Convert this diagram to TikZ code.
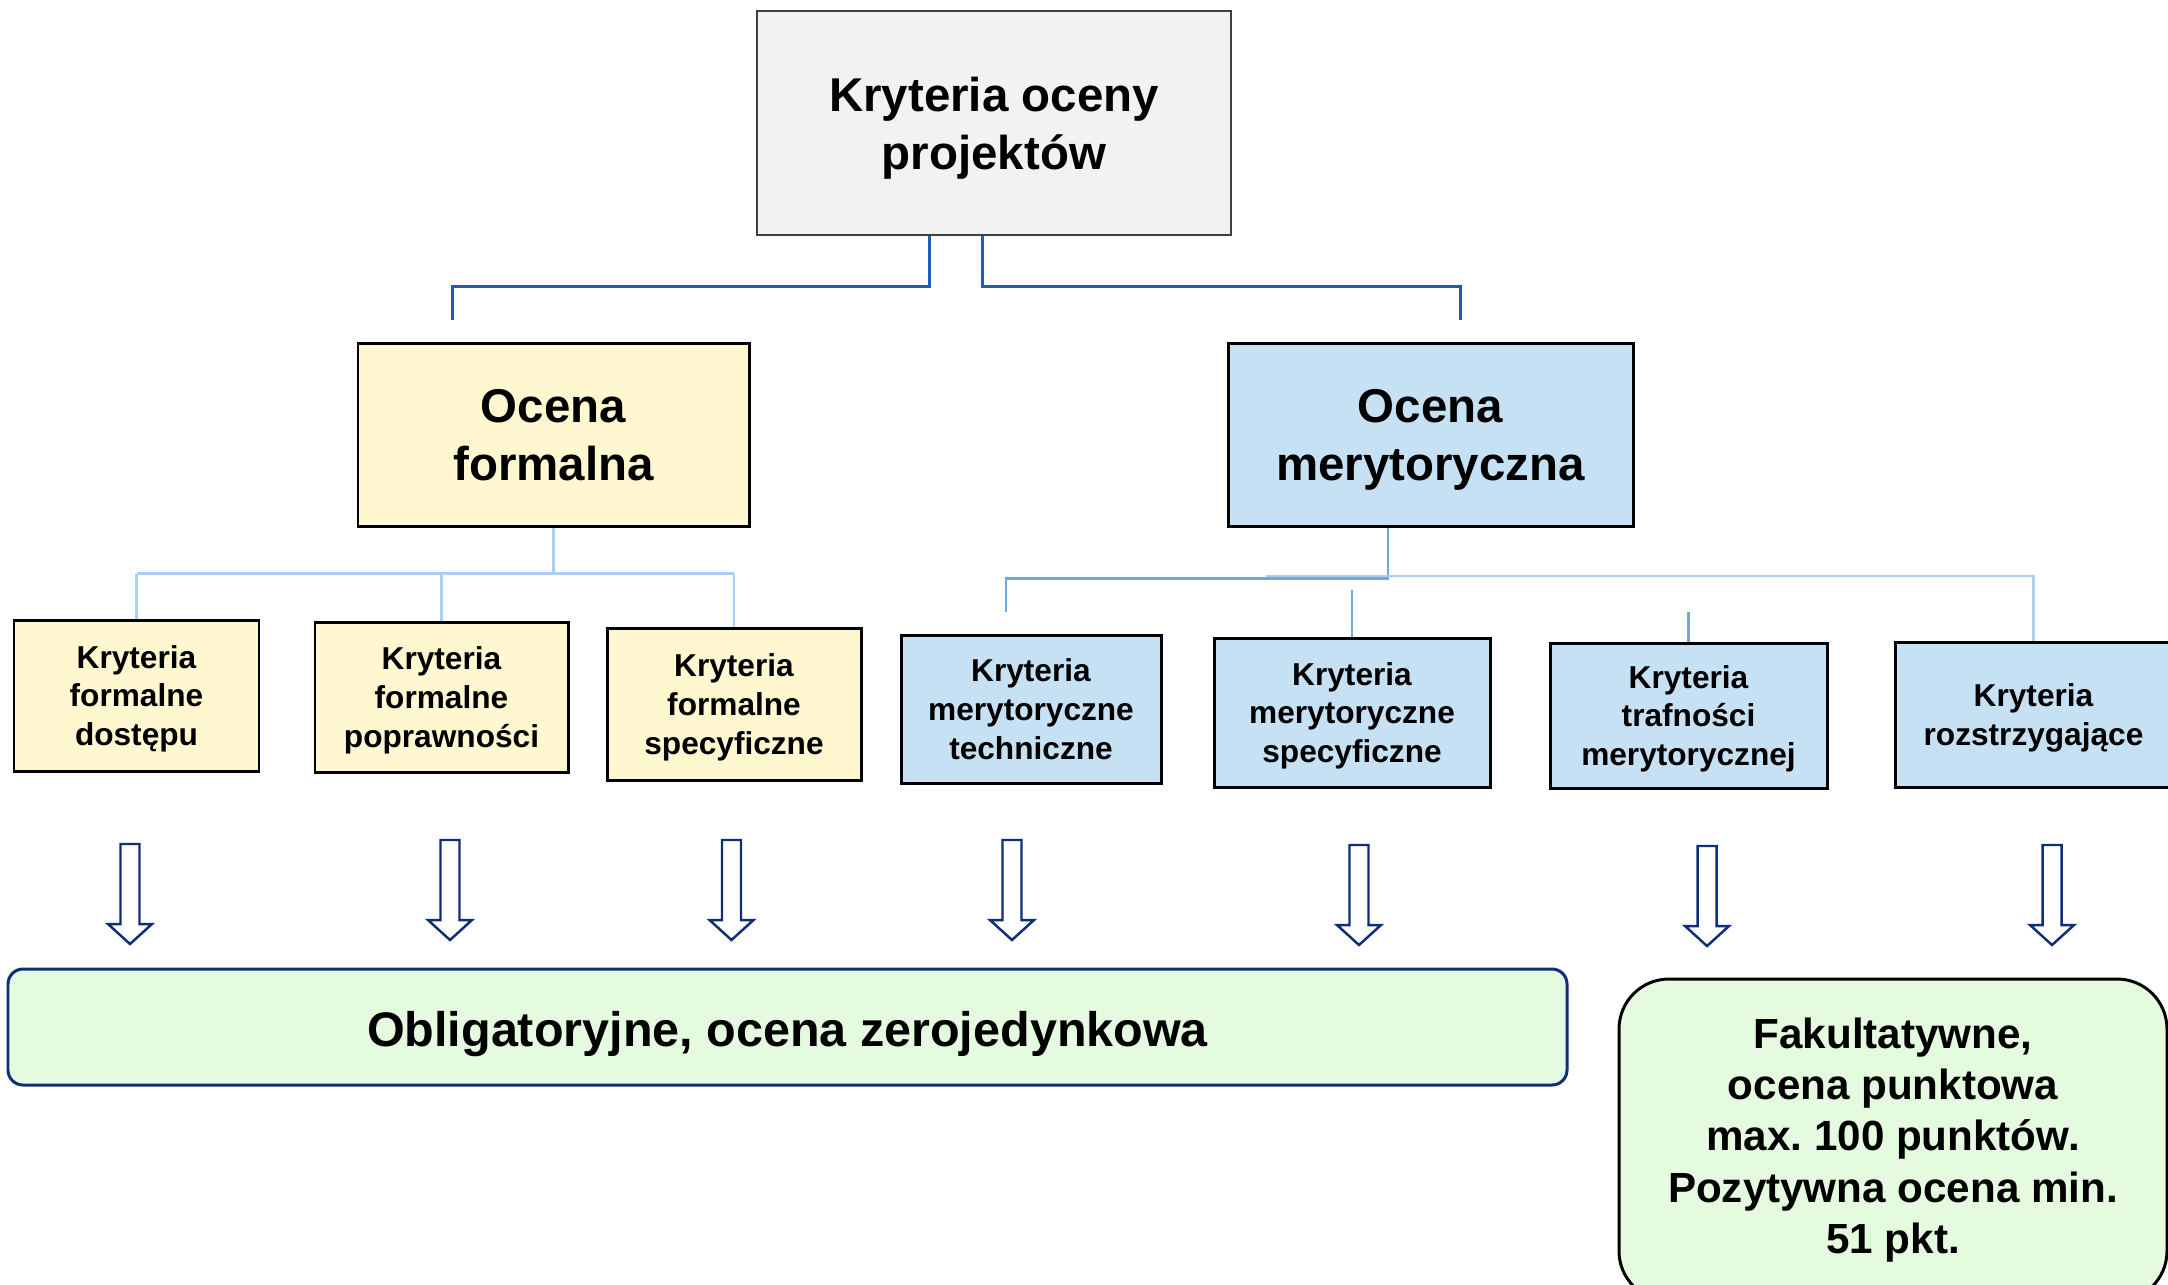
\documentclass[tikz,border=0pt]{standalone}
\usepackage{fontspec}
\setmainfont{Liberation Sans}
\frenchspacing
\definecolor{szaryjasny}{HTML}{F2F2F2}
\definecolor{zolty}{HTML}{FFF7D0}
\definecolor{niebieski}{HTML}{C6E0F4}
\definecolor{zielony}{HTML}{E4FBDF}
\definecolor{granat}{HTML}{0F2D78}
\definecolor{liniaciemna}{HTML}{1F5CB6}
\definecolor{liniasrednia}{HTML}{6FA8DC}
\definecolor{liniajasna}{HTML}{A9D0F2}
\tikzset{
    ramka/.style={draw=black, line width=0.85pt, align=center, inner sep=0pt},
    wyrownanie/.style={text depth=0pt, execute at begin node={\rule{0pt}{0.82em}}},
    tytul/.style={ramka, wyrownanie, font=\bfseries\fontsize{13.5}{16.5}\selectfont},
    kryterium/.style={ramka, wyrownanie, font=\bfseries\fontsize{9}{11}\selectfont},
    wynik/.style={ramka, fill=zielony, align=center},
    polaczenie/.style={draw=liniaciemna, line width=0.85pt},
    galaz/.style={draw=liniajasna, line width=0.6pt},
    blokstrzalka/.style={draw=granat, fill=white, line width=0.7pt, line join=miter}
}
\begin{document}
\begin{tikzpicture}

	\useasboundingbox (0,0) rectangle (21.68,-12.84);
	\clip (0,0) rectangle (21.68,-12.84);

	% Poziom główny
	\node[tytul, draw=black!75, line width=0.6pt, fill=szaryjasny,
		minimum width=4.74cm, minimum height=2.24cm] (kryteria) at (9.94,-1.23)
		{Kryteria oceny\\projektów};

	\node[tytul, fill=zolty, minimum width=3.91cm, minimum height=1.83cm]
		(formalna) at (5.535,-4.345) {Ocena\\formalna};
	\node[tytul, fill=niebieski, minimum width=4.05cm, minimum height=1.83cm]
		(merytoryczna) at (14.305,-4.345) {Ocena\\merytoryczna};

	% Kryteria formalne
	\node[kryterium, fill=zolty, minimum width=2.45cm, minimum height=1.51cm]
		(dostepu) at (1.365,-6.955) {Kryteria\\formalne\\dostępu};
	\node[kryterium, fill=zolty, minimum width=2.53cm, minimum height=1.50cm]
		(poprawnosci) at (4.415,-6.97) {Kryteria\\formalne\\poprawności};
	\node[kryterium, fill=zolty, minimum width=2.54cm, minimum height=1.52cm]
		(fspecyficzne) at (7.34,-7.04) {Kryteria\\formalne\\specyficzne};

	% Kryteria merytoryczne
	\node[kryterium, fill=niebieski, minimum width=2.60cm, minimum height=1.48cm]
		(techniczne) at (10.31,-7.09) {Kryteria\\merytoryczne\\techniczne};
	\node[kryterium, fill=niebieski, minimum width=2.76cm, minimum height=1.49cm]
		(mspecyficzne) at (13.52,-7.125) {Kryteria\\merytoryczne\\specyficzne};
	\node[kryterium, fill=niebieski, minimum width=2.77cm, minimum height=1.45cm]
		(trafnosci) at (16.885,-7.155) {Kryteria\\trafności\\merytorycznej};
	\node[kryterium, fill=niebieski, minimum width=2.77cm, minimum height=1.45cm]
		(rozstrzygajace) at (20.335,-7.145) {Kryteria\\rozstrzygające};

	% Połączenia od góry
	\coordinate (lewykoniec) at (4.52,-3.20);
	\coordinate (prawykoniec) at (14.60,-3.20);
	\draw[polaczenie] ([xshift=-6.5mm]kryteria.south) -- ++(0,-0.5) -| (lewykoniec);
	\draw[polaczenie] ([xshift=-1.2mm]kryteria.south) -- ++(0,-0.5) -| (prawykoniec);

	% Gałęzie oceny formalnej
	\draw[galaz] (formalna.south) -- ++(0,-0.46) coordinate (fszyna);
	\draw[galaz] (fszyna -| dostepu.north) -- (fszyna -| fspecyficzne.north);
	\foreach \k in {dostepu, poprawnosci, fspecyficzne}
		\draw[galaz] (fszyna -| \k.north) -- (\k.north);

	% Gałęzie oceny merytorycznej
	\coordinate (mtechkoniec) at (10.06,-6.12);
	\coordinate (mszyna) at (12.66,-5.76);
	\draw[galaz, draw=liniasrednia, line width=0.75pt]
		([xshift=-4.25mm]merytoryczna.south) -- ++(0,-0.51) -| (mtechkoniec);
	\draw[galaz] (mszyna) -| (rozstrzygajace.north);
	\draw[galaz, draw=liniasrednia] ([yshift=4.7mm]mspecyficzne.north) -- (mspecyficzne.north);
	\draw[galaz, draw=liniasrednia] ([yshift=3mm]trafnosci.north) -- (trafnosci.north);

	% Strzałki w dół
	\foreach \x/\y in {1.30/8.44, 4.50/8.40, 7.315/8.40, 10.12/8.40,
			13.59/8.45, 17.07/8.46, 20.52/8.45}
		\draw[blokstrzalka] (\x,-\y) ++(-0.095,0) -- ++(0.19,0) -- ++(0,-0.8)
			-- ++(0.125,0) -- ++(-0.22,-0.2) -- ++(-0.22,0.2) -- ++(0.125,0) -- cycle;

	% Rodzaje oceny
	\node[wynik, wyrownanie, draw=granat, rounded corners=0.15cm, minimum width=15.59cm,
		minimum height=1.16cm, font=\bfseries\fontsize{13.8}{17}\selectfont]
		(obligatoryjne) at (7.875,-10.27) {Obligatoryjne, ocena zerojedynkowa};
	\node[wynik, rounded corners=0.5cm, minimum width=5.48cm, minimum height=3.22cm,
		font=\bfseries\fontsize{12}{14.6}\selectfont]
		(fakultatywne) at (18.93,-11.40)
		{Fakultatywne,\\ocena punktowa\\max. 100 punktów.\\Pozytywna ocena min.\\51 pkt.};

\end{tikzpicture}
\end{document}
